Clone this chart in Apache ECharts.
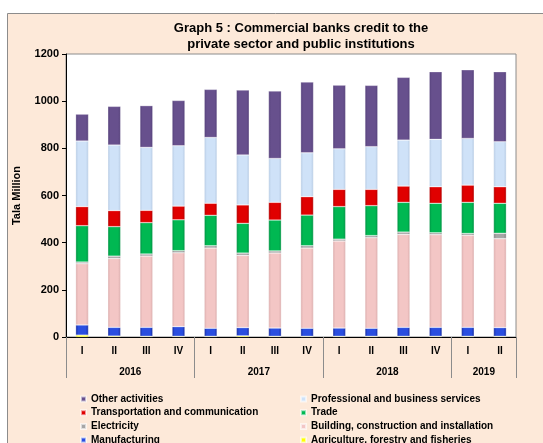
<!DOCTYPE html>
<html><head><meta charset="utf-8">
<script src="https://cdn.jsdelivr.net/npm/echarts@6/dist/echarts.min.js"></script>
<style>html,body{margin:0;padding:0;background:#fff}#c{width:543px;height:443px}</style>
</head><body><div id="c"></div>
<script>
const quarters = ['I','II','III','IV','I','II','III','IV','I','II','III','IV','I','II'];
const years = ['2016','2017','2018','2019'];
const yearCenters = [2, 6, 10, 13];
const yearBounds = [0, 4, 8, 12, 14];
const yTicks = [0, 200, 400, 600, 800, 1000, 1200];

const agriculture   = [8, 4, 3, 3, 3, 5, 3, 3, 3, 3, 3, 3, 3, 3];
const manufacturing = [43, 37, 38, 41, 34, 35, 35, 34, 35, 34, 38, 38, 38, 37];
const building      = [260, 292, 302, 313, 340, 306, 318, 340, 369, 384, 394, 393, 390, 377];
const electricity   = [7, 10, 9, 9, 10, 10, 9, 10, 8, 9, 10, 8, 8, 23];
const trade         = [154, 125, 133, 131, 129, 126, 131, 130, 138, 127, 126, 125, 132, 127];
const transport     = [81, 68, 52, 58, 51, 78, 75, 78, 73, 69, 69, 70, 73, 70];
const professional  = [278, 278, 267, 256, 279, 212, 186, 186, 172, 181, 195, 201, 198, 191];
const other         = [114, 164, 177, 192, 204, 275, 286, 300, 270, 260, 266, 287, 291, 297];

const seriesDefs = [
  {name: 'Agriculture, forestry and fisheries', data: agriculture, c: '#FFFF00', e: '#C8C800'},
  {name: 'Manufacturing', data: manufacturing, c: '#2A4EE0', e: '#16299A'},
  {name: 'Building, construction and installation', data: building, c: '#F3C6C5', e: '#D9ABAB'},
  {name: 'Electricity', data: electricity, c: '#A6A6A6', e: '#7F7F7F'},
  {name: 'Trade', data: trade, c: '#00B852', e: '#008F42'},
  {name: 'Transportation and communication', data: transport, c: '#E00000', e: '#B00000'},
  {name: 'Professional and business services', data: professional, c: '#CFE2F8', e: '#B5C9E2'},
  {name: 'Other activities', data: other, c: '#67508D', e: '#54407A'}
];

const font = "'Liberation Sans', Arial, sans-serif";
const legendText = {fontFamily: font, fontSize: 10, fontWeight: 'bold', color: '#000', lineHeight: 12};
const chart = echarts.init(document.getElementById('c'));
chart.setOption({
  backgroundColor: '#fff',
  animation: false,
  graphic: [{type: 'rect', z: -10, shape: {x: 7.5, y: 13.5, width: 600, height: 500},
    style: {fill: '#FDE9D9', stroke: '#8C8C8C', lineWidth: 1}}],
  title: {
    text: 'Graph 5 : Commercial banks credit to the\nprivate sector and public institutions',
    left: 296, textAlign: 'center', top: 15,
    textStyle: {fontFamily: font, fontSize: 13, fontWeight: 'bold', color: '#000', lineHeight: 16}
  },
  legend: [
    {orient: 'vertical', left: 75, top: 388, height: 60, itemWidth: 5, itemHeight: 5, icon: 'rect', itemGap: 1.7,
     data: ['Other activities', 'Transportation and communication', 'Electricity', 'Manufacturing'],
     textStyle: legendText},
    {orient: 'vertical', left: 295, top: 388, height: 60, itemWidth: 5, itemHeight: 5, icon: 'rect', itemGap: 1.7,
     data: ['Professional and business services', 'Trade', 'Building, construction and installation', 'Agriculture, forestry and fisheries'],
     textStyle: legendText}
  ],
  grid: {left: 66, right: 27, top: 54, bottom: 106, show: true, backgroundColor: '#fff', borderColor: '#8C8C8C', borderWidth: 1},
  xAxis: [
    {type: 'category', data: quarters, gridIndex: 0, position: 'bottom',
     axisLine: {lineStyle: {color: '#000', width: 1}},
     axisTick: {interval: 0, length: 25, lineStyle: {color: '#8C8C8C'}},
     axisLabel: {interval: 0, margin: 9, fontFamily: font, fontSize: 10, fontWeight: 'bold', color: '#000'}},
    {type: 'value', min: 0, max: 14, gridIndex: 0, position: 'bottom',
     axisLine: {show: false}, splitLine: {show: false},
     axisTick: {show: true, customValues: yearBounds, length: 41, lineStyle: {color: '#8C8C8C'}},
     axisLabel: {customValues: yearCenters, margin: 30, fontFamily: font, fontSize: 10, fontWeight: 'bold', color: '#000',
       formatter: function (v) { const i = yearCenters.indexOf(v); return i >= 0 ? years[i] : ''; }}}
  ],
  yAxis: {
    type: 'value', min: yTicks[0], max: yTicks[yTicks.length - 1], interval: 200,
    name: 'Tala Million', nameLocation: 'middle', nameGap: 44,
    nameTextStyle: {fontFamily: font, fontSize: 11, fontWeight: 'bold', color: '#000'},
    axisLine: {show: true, lineStyle: {color: '#000'}},
    axisTick: {show: true, length: 4, lineStyle: {color: '#000'}},
    splitLine: {show: false},
    axisLabel: {margin: 7, fontFamily: font, fontSize: 11, fontWeight: 'bold', color: '#000',
      formatter: function (v) { return String(v); }}
  },
  series: seriesDefs.map(s => ({
    name: s.name, type: 'bar', stack: 'total', xAxisIndex: 0, barWidth: '40%',
    data: s.data,
    itemStyle: {
      color: {type: 'linear', x: 0, y: 0, x2: 1, y2: 0,
        colorStops: [{offset: 0, color: s.e}, {offset: 0.2, color: s.c}, {offset: 0.8, color: s.c}, {offset: 1, color: s.e}]},
      borderColor: 'rgba(255,255,255,0.6)', borderWidth: 0.5
    }
  }))
});
</script></body></html>
